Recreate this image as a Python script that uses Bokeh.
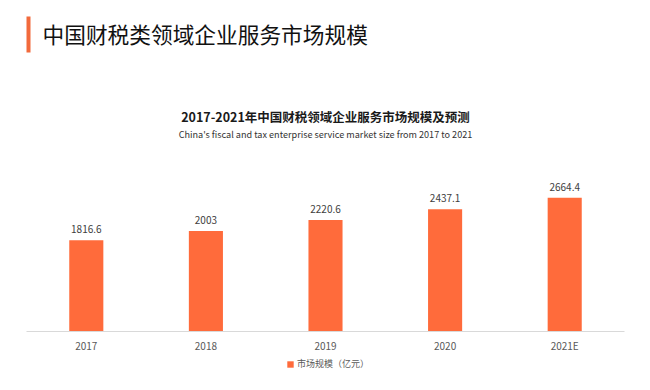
from bokeh.plotting import figure
from bokeh.models import ColumnDataSource, Range1d, FactorRange, Label, BoxAnnotation, Legend, LegendItem
from bokeh.core.properties import value
from bokeh.embed import file_html
from bokeh.resources import INLINE

categories = ["2017", "2018", "2019", "2020", "2021E"]
values = [1816.6, 2003, 2220.6, 2437.1, 2664.4]
value_labels = ["1816.6", "2003", "2220.6", "2437.1", "2664.4"]
legend_label = "市场规模（亿元）"
main_title = "中国财税类领域企业服务市场规模"
chart_title = "2017-2021年中国财税领域企业服务市场规模及预测"
chart_subtitle = "China's fiscal and tax enterprise service market size from 2017 to 2021"

FONT = "Noto Sans CJK SC"
BAR = "#FF6B3B"

src = ColumnDataSource(dict(x=categories, top=values, lab=value_labels,
                            base=[0] * len(categories)))

p = figure(width=650, height=390, output_backend="svg", toolbar_location=None,
           x_range=FactorRange(*categories, range_padding=0.2174, range_padding_units="absolute"),
           y_range=Range1d(-1175, 6594),
           min_border_left=0, min_border_right=0, min_border_top=0, min_border_bottom=0)
p.background_fill_color = "white"
p.border_fill_color = "white"
p.outline_line_color = None
p.grid.visible = False
p.xaxis.visible = False
p.yaxis.visible = False

# category axis line
p.add_layout(BoxAnnotation(left=26, right=624, bottom=58.5, top=59.5,
                           left_units="screen", right_units="screen",
                           bottom_units="screen", top_units="screen",
                           fill_color="#d9d9d9", fill_alpha=1, line_color=None))

r = p.vbar(x="x", top="top", width=0.285, source=src, fill_color=BAR, line_color=None)
p.text(x="x", y="top", text="lab", source=src, text_align="center", text_baseline="bottom",
       y_offset=-7, text_font=value(FONT), text_font_size="10px", text_color="#404040")
# category labels
p.text(x="x", y="base", text="x", source=src, text_align="center", text_baseline="middle",
       y_offset=14, text_font=value(FONT), text_font_size="10px", text_color="#595959")

# header accent bar and titles (screen units relative to plot frame)
p.add_layout(BoxAnnotation(left=26, right=30, bottom=338, top=374,
                           left_units="screen", right_units="screen",
                           bottom_units="screen", top_units="screen",
                           fill_color="#F26A3C", fill_alpha=1, line_color=None))
p.add_layout(Label(x=42, y=357, x_units="screen", y_units="screen", text=main_title,
                   text_font=FONT, text_font_size="21.7px",
                   text_color="#111111",
                   text_baseline="middle", text_align="left"))
p.add_layout(Label(x=325, y=274, x_units="screen", y_units="screen", text=chart_title,
                   text_font=FONT, text_font_size="12.5px", text_font_style="bold",
                   text_color="#1a1a1a", text_baseline="middle", text_align="center"))
p.add_layout(Label(x=325, y=257, x_units="screen", y_units="screen", text=chart_subtitle,
                   text_font=FONT, text_font_size="9.1px", text_color="#333333",
                   text_baseline="middle", text_align="center"))

legend = Legend(items=[LegendItem(label=legend_label, renderers=[r])], location=(286, 20),
                orientation="horizontal", padding=0, margin=0, border_line_alpha=0,
                background_fill_alpha=0,
                glyph_width=8, glyph_height=8, label_height=10, label_standoff=3,
                label_text_font=FONT, label_text_font_size="9px", label_text_color="#595959")
p.add_layout(legend, "center")

open("out.html", "w").write(file_html(p, INLINE))
